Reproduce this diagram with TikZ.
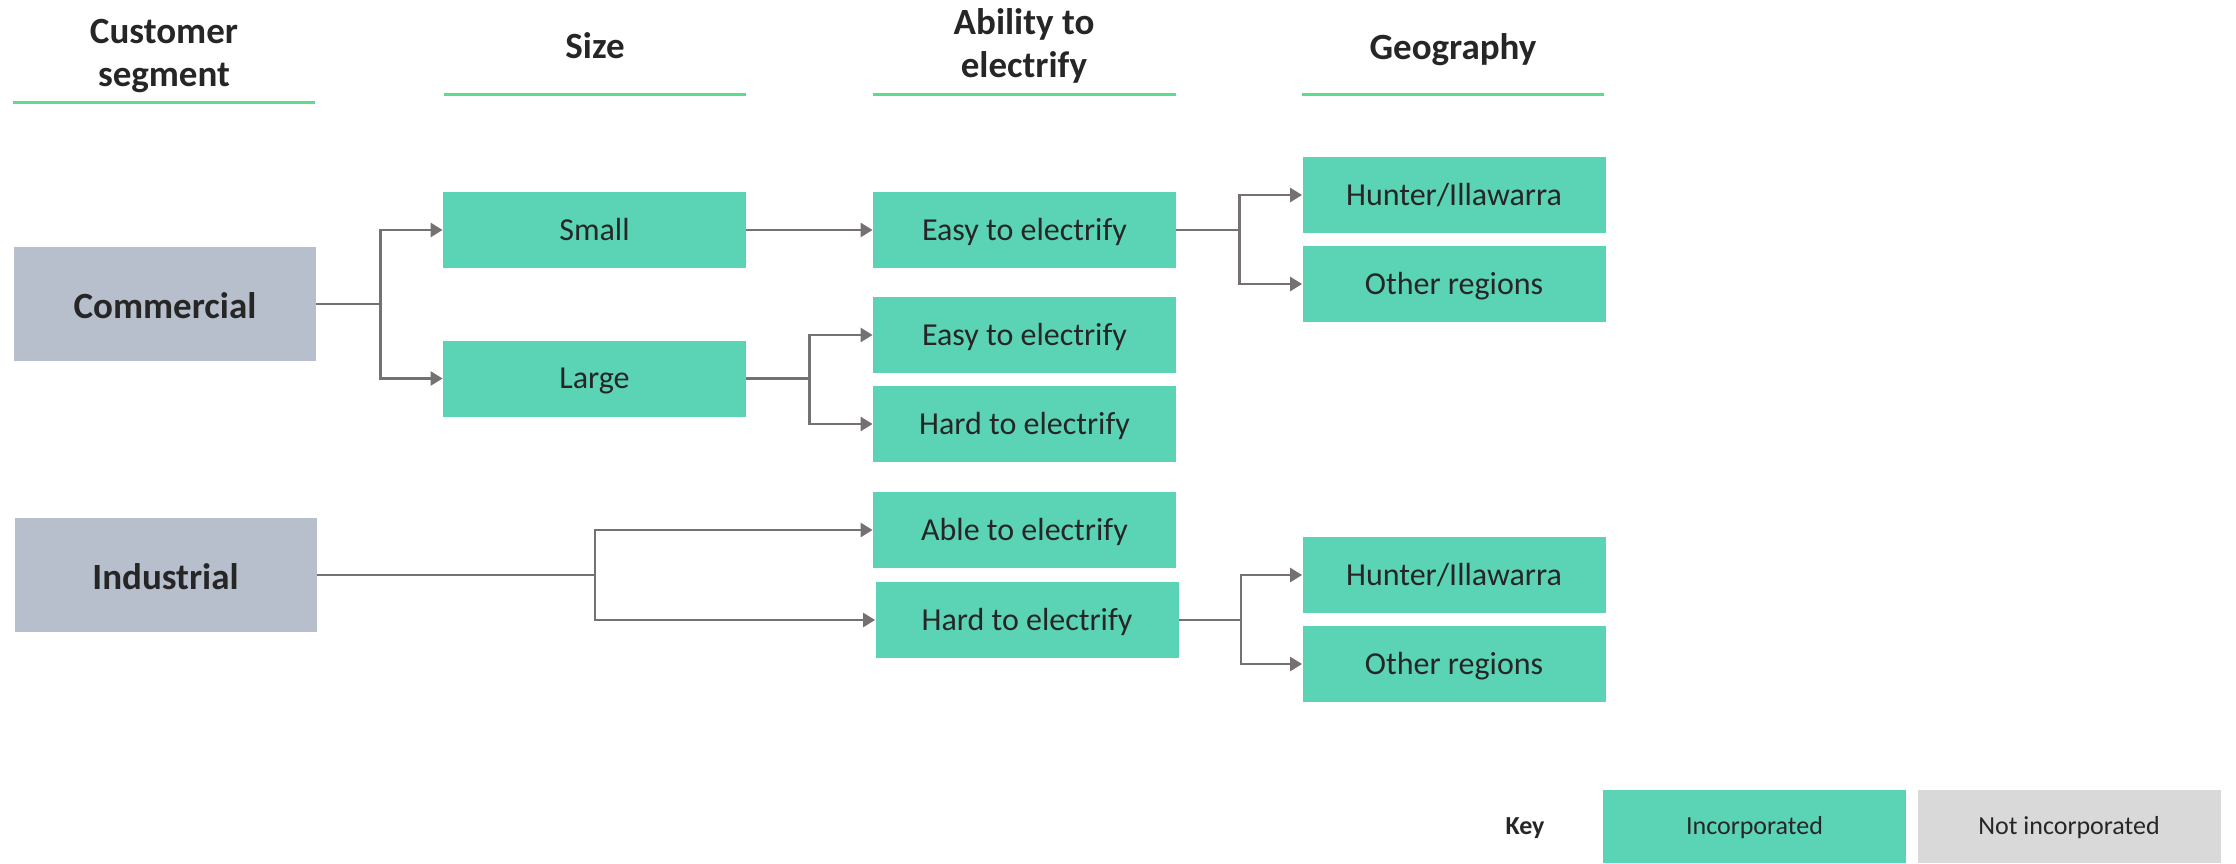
\documentclass[tikz,border=0pt]{standalone}
\usepackage{fontspec}
\setmainfont{Carlito}
\usetikzlibrary{arrows.meta}
\definecolor{tealc}{HTML}{5BD3B5}
\definecolor{grayc}{HTML}{B7BECC}
\definecolor{lgrayc}{HTML}{D9D9D9}
\definecolor{greenc}{HTML}{5CDC8E}
\definecolor{arrc}{HTML}{767171}
\definecolor{txtc}{HTML}{262626}
\begin{document}
\begin{tikzpicture}[x=0.5pt,y=-0.5pt,
  box/.style={rectangle, fill=tealc, minimum width=151.5pt, minimum height=38pt, inner sep=0pt, text height=10.3pt, text depth=0pt, text=txtc, font=\fontsize{16}{19}\selectfont},
  keybox/.style={rectangle, inner sep=0pt, minimum width=151.5pt, minimum height=36.5pt, text height=8.4pt, text depth=0pt, text=txtc, font=\fontsize{13}{16}\selectfont},
  seg/.style={rectangle, fill=grayc, minimum width=151pt, minimum height=57pt, inner sep=0pt, text height=11.9pt, text depth=0pt, text=txtc, font=\bfseries\fontsize{18.5}{22}\selectfont},
  head/.style={align=center, inner sep=0pt, text=txtc, font=\bfseries\fontsize{18.5}{21.5}\selectfont},
  uline/.style={draw=greenc, line width=1.5pt},
  arr/.style={draw=arrc, line width=1.3pt, -{Triangle[length=6pt,width=7pt]}}
]
\useasboundingbox (0,0) rectangle (2236,863);
% headers
\node[head] (h1) at (164,56) {Customer\\segment};
\node[head, anchor=base] (h2) at (595,58) {Size};
\node[head] (h3) at (1024,46) {Ability to\\electrify};
\node[head, anchor=base] (h4) at (1453,59) {Geography};
\coordinate (u1a) at (13,102); \coordinate (u1b) at (315,102);
\coordinate (u2a) at (444,94); \coordinate (u2b) at (746,94);
\coordinate (u3a) at (873,94); \coordinate (u3b) at (1176,94);
\coordinate (u4a) at (1302,94); \coordinate (u4b) at (1604,94);
\draw[uline] (u1a) -- (u1b);
\draw[uline] (u2a) -- (u2b);
\draw[uline] (u3a) -- (u3b);
\draw[uline] (u4a) -- (u4b);
% segments
\node[seg] (com) at (165,304) {\raisebox{-1.5pt}{Commercial}};
\node[seg] (ind) at (165.5,575) {\raisebox{-1.5pt}{Industrial}};
% size
\node[box] (small) at (594.5,230) {Small};
\node[box] (large) at (594.5,378.5) {Large};
% ability
\node[box] (easy1) at (1024.5,230) {Easy to electrify};
\node[box] (easy2) at (1024.5,335) {Easy to electrify};
\node[box] (hard1) at (1024.5,424) {Hard to electrify};
\node[box] (able) at (1024.5,530) {Able to electrify};
\node[box] (hard2) at (1027,620) {Hard to electrify};
% geography
\node[box] (hun1) at (1454,195) {Hunter/Illawarra};
\node[box] (oth1) at (1454,284) {Other regions};
\node[box] (hun2) at (1454,575) {Hunter/Illawarra};
\node[box] (oth2) at (1454,664) {Other regions};
% connectors
\draw[arr] (com.east) -- ++(64,0) |- (small.west);
\draw[arr] (com.east) -- ++(64,0) |- (large.west);
\draw[arr] (small.east) -- (easy1.west);
\draw[arr] (large.east) -- ++(63,0) |- (easy2.west);
\draw[arr] (large.east) -- ++(63,0) |- (hard1.west);
\draw[arr] (easy1.east) -- ++(63,0) |- (hun1.west);
\draw[arr] (easy1.east) -- ++(63,0) |- (oth1.west);
\draw[arr] (ind.east) -- ++(278,0) |- (able.west);
\draw[arr] (ind.east) -- ++(278,0) |- (hard2.west);
\draw[arr] (hard2.east) -- ++(62,0) |- (hun2.west);
\draw[arr] (hard2.east) -- ++(62,0) |- (oth2.west);
% key
\node[text=txtc, inner sep=0pt, text height=8.4pt, text depth=0pt, font=\bfseries\fontsize{13}{16}\selectfont] (key) at (1525,826.5) {Key};
\node[keybox, fill=tealc] (inc) at (1754.5,826.5) {Incorporated};
\node[keybox, fill=lgrayc] (ninc) at (2069,826.5) {Not incorporated};
\end{tikzpicture}
\end{document}
